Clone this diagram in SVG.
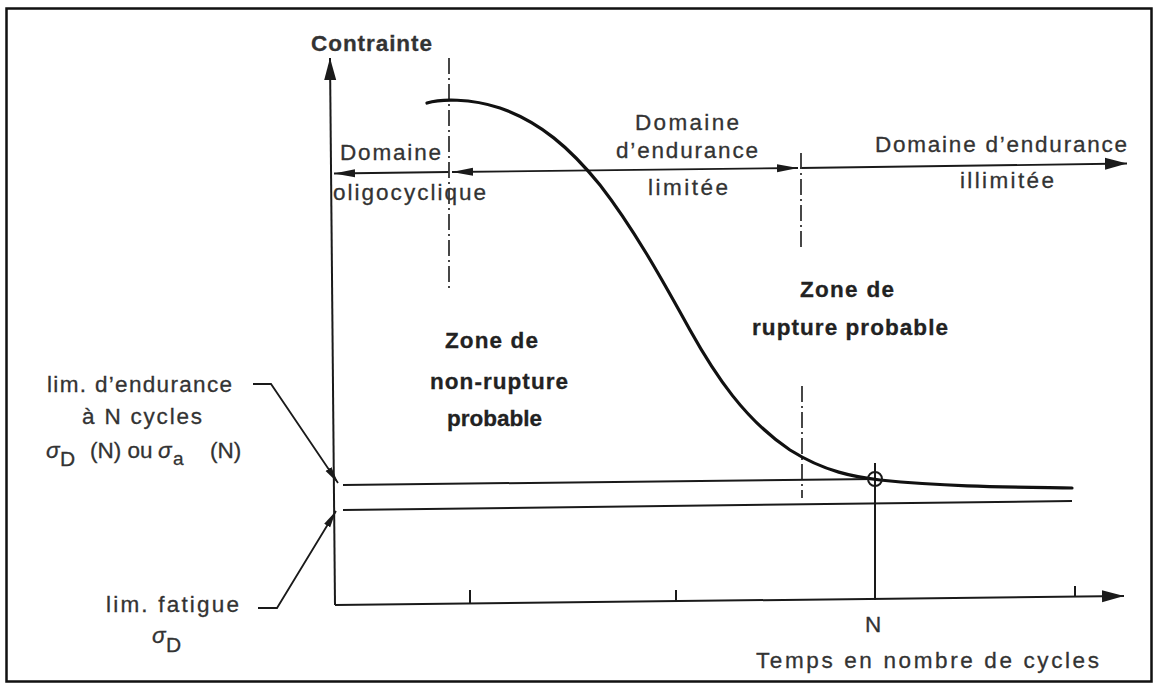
<svg xmlns="http://www.w3.org/2000/svg" width="1158" height="688" viewBox="0 0 1158 688">
<style>
.ln{stroke:#1a1a1a;stroke-width:2;fill:none}
.thin{stroke:#1a1a1a;stroke-width:1.8;fill:none}
.curve{stroke:#111;stroke-width:3.2;fill:none;stroke-linecap:round}
.dd{stroke:#333;stroke-width:1.8;fill:none;stroke-dasharray:16 4 2 4}
.t{font-family:"Liberation Sans",Arial,sans-serif;font-size:22.5px;fill:#333;stroke:#333;stroke-width:0.3}
.b{font-weight:bold;fill:#222;stroke:#222}
.s{font-style:italic}
</style>
<defs>
<marker id="ah" markerUnits="userSpaceOnUse" markerWidth="24" markerHeight="14" refX="22" refY="7" orient="auto-start-reverse"><path d="M0,1 L22,7 L0,13 z" fill="#1a1a1a"/></marker>
<marker id="as" markerUnits="userSpaceOnUse" markerWidth="22" markerHeight="10" refX="21" refY="5" orient="auto-start-reverse"><path d="M0,1 L21,5 L0,9 z" fill="#1a1a1a"/></marker>
<marker id="al" markerUnits="userSpaceOnUse" markerWidth="18" markerHeight="9" refX="17" refY="4.5" orient="auto"><path d="M0,1 L17,4.5 L0,8 z" fill="#1a1a1a"/></marker>
</defs>
<rect x="0" y="0" width="1158" height="688" fill="#fff"/>
<rect x="6.5" y="8.5" width="1145" height="673" fill="#fff" stroke="#111" stroke-width="2.5"/>

<g id="connectors">
  <path id="y-axis" class="ln" d="M335,605 L330,58" marker-end="url(#ah)"/>
  <path id="x-axis" class="ln" d="M335,605 L1124,596" marker-end="url(#ah)"/>
  <path class="ln" d="M470,604 L470,590 M676,602 L676,590 M1075,597 L1075,586"/>
  <path id="n-line" class="ln" d="M875,600 L875,463"/>
  <path id="dom-oligo" class="thin" d="M449,172 L334,173.5" marker-end="url(#as)"/>
  <path id="dom-lim" class="thin" d="M452,172 L798,168" marker-start="url(#as)" marker-end="url(#as)"/>
  <path id="dom-illim" class="thin" d="M800,168 L1127,163.5" marker-end="url(#ah)"/>
  <path class="dd" d="M449,58 L449,292"/>
  <path class="dd" d="M801,153 L801,249"/>
  <path class="dd" d="M802,386 L802,498"/>
  <path id="sigma-n-line" class="ln" d="M343,485 L875,479"/>
  <path id="sigma-d-line" class="ln" d="M343,510 L1072,501"/>
  <path id="woehler-curve" class="curve" d="M427,103 C440,99 470,98 500,108 C540,122 570,148 600,185 C635,230 665,285 690,330 C715,375 745,420 790,450 C825,472 855,477 880,480 C950,487 1010,487 1072,488"/>
  <circle cx="875" cy="479" r="7" class="ln"/>
  <path id="leader-endurance" class="thin" d="M253,384 L271,384 L338,483" marker-end="url(#al)"/>
  <path id="leader-fatigue" class="thin" d="M258,608 L277,608 L336,511" marker-end="url(#al)"/>
</g>

<g id="label-contrainte"><text class="t" x="311" y="51" font-weight="600" textLength="121" lengthAdjust="spacing">Contrainte</text></g>
<g id="label-oligo">
  <text class="t" x="340" y="160" textLength="101" lengthAdjust="spacing">Domaine</text>
  <text class="t" x="333" y="200" textLength="153" lengthAdjust="spacing">oligocyclique</text>
</g>
<g id="label-limitee">
  <text class="t" x="635" y="130" textLength="104" lengthAdjust="spacing">Domaine</text>
  <text class="t" x="616" y="158" textLength="142" lengthAdjust="spacing">d’endurance</text>
  <text class="t" x="648" y="195" textLength="80" lengthAdjust="spacing">limitée</text>
</g>
<g id="label-illimitee">
  <text class="t" x="875" y="152" textLength="252" lengthAdjust="spacing">Domaine d’endurance</text>
  <text class="t" x="960" y="188" textLength="94" lengthAdjust="spacing">illimitée</text>
</g>
<g id="zone-rupture">
  <text class="t b" x="800" y="297" textLength="94" lengthAdjust="spacing">Zone de</text>
  <text class="t b" x="752" y="335" textLength="196" lengthAdjust="spacing">rupture probable</text>
</g>
<g id="zone-non-rupture">
  <text class="t b" x="445" y="348" textLength="93" lengthAdjust="spacing">Zone de</text>
  <text class="t b" x="430" y="389" textLength="138" lengthAdjust="spacing">non-rupture</text>
  <text class="t b" x="447" y="426" textLength="95" lengthAdjust="spacing">probable</text>
</g>
<g id="label-lim-endurance">
  <text class="t" x="47" y="392" textLength="185" lengthAdjust="spacing">lim. d’endurance</text>
  <text class="t" x="82" y="424" textLength="120" lengthAdjust="spacing">à N cycles</text>
  <text class="t" y="458"><tspan class="s" x="46">σ</tspan><tspan x="60" y="466" font-size="21">D</tspan><tspan x="90" y="458">(N) ou</tspan><tspan class="s" x="158">σ</tspan><tspan x="173" y="465" font-size="19">a</tspan><tspan x="210" y="458">(N)</tspan></text>
</g>
<g id="label-lim-fatigue">
  <text class="t" x="106" y="612" textLength="133" lengthAdjust="spacing">lim. fatigue</text>
  <text class="t" y="643"><tspan class="s" x="152">σ</tspan><tspan x="166" y="652" font-size="21">D</tspan></text>
</g>
<g id="label-n"><text class="t" x="865" y="632">N</text></g>
<g id="label-temps"><text class="t" x="756" y="668" textLength="343" lengthAdjust="spacing">Temps en nombre de cycles</text></g>
</svg>
